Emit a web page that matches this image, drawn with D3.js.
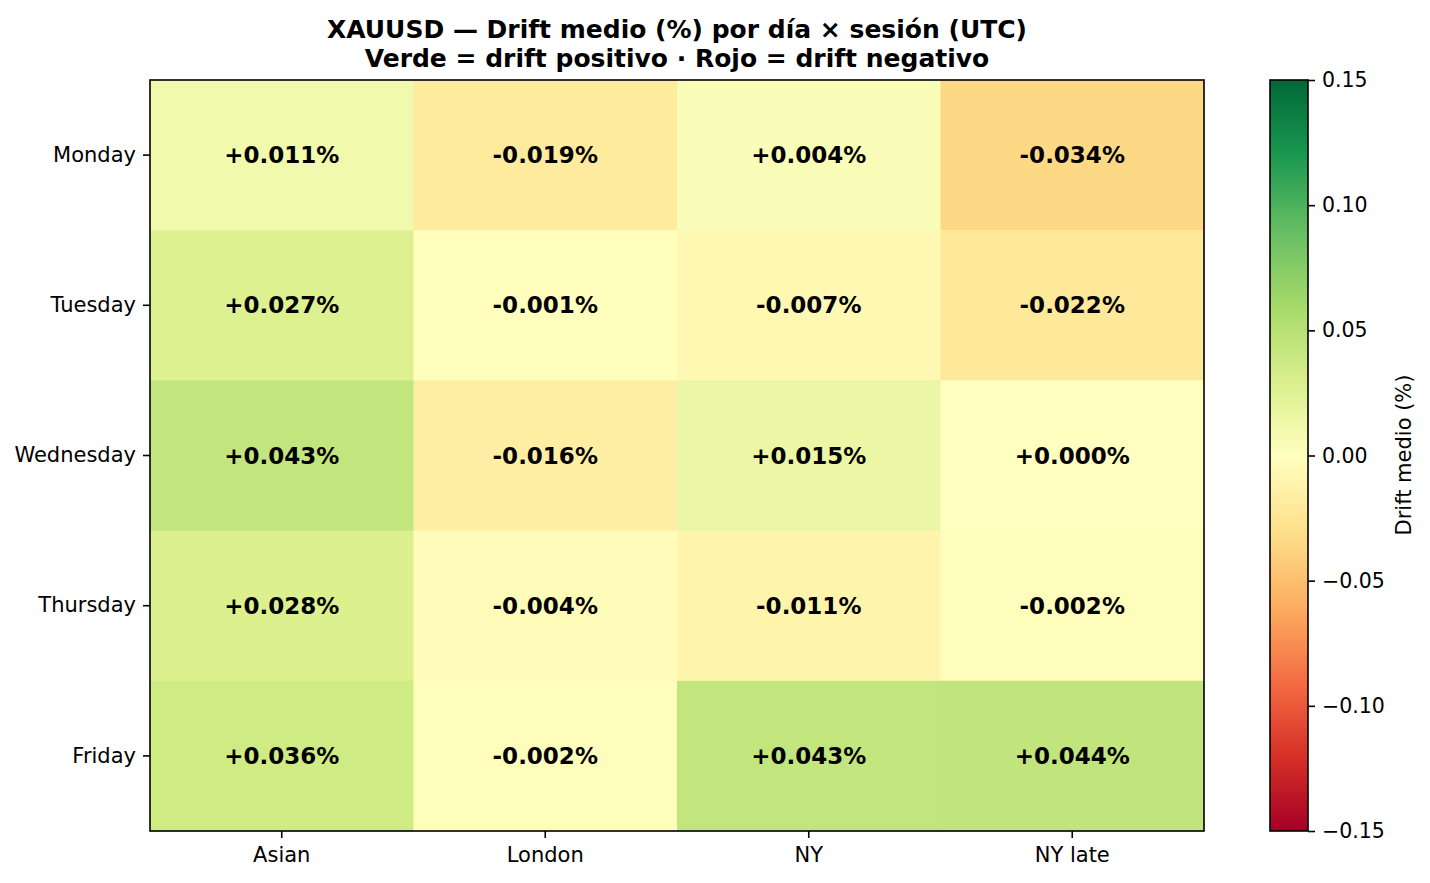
<!DOCTYPE html>
<html>
<head>
<meta charset="utf-8">
<script src="https://cdn.jsdelivr.net/npm/d3@7"></script>
<style>
  body { margin: 0; background: #fff; }
  svg text { font-family: "DejaVu Sans", sans-serif; }
</style>
</head>
<body>
<svg id="chart" width="1430" height="883"></svg>
<script>
// data
const days = ["Monday", "Tuesday", "Wednesday", "Thursday", "Friday"];
const sessions = ["Asian", "London", "NY", "NY late"];
const drift = [
  [0.011, -0.019, 0.004, -0.034],
  [0.027, -0.001, -0.007, -0.022],
  [0.043, -0.016, 0.015, 0.000],
  [0.028, -0.004, -0.011, -0.002],
  [0.036, -0.002, 0.043, 0.044]
];
const cbTicks = [0.15, 0.10, 0.05, 0.00, -0.05, -0.10, -0.15];

const svg = d3.select("#chart");
const plot = {left: 150, right: 1204, top: 80, bottom: 831};
const cb = {left: 1270, right: 1308};

// RdYlGn, linear between the 11 brewer colours like matplotlib
const brewer = d3.schemeRdYlGn[11];
const color = d3.scaleLinear()
  .domain(d3.range(11).map(i => -0.15 + i * 0.03))
  .range(brewer)
  .interpolate(d3.interpolateRgb)
  .clamp(true);

const x = d3.scaleBand().domain(sessions).range([plot.left, plot.right]);
const y = d3.scaleBand().domain(days).range([plot.top, plot.bottom]);

let cells = [];
days.forEach((d, i) => sessions.forEach((s, j) => cells.push({day: d, session: s, v: drift[i][j]})));

svg.append("g").selectAll("rect").data(cells).join("rect")
  .attr("x", d => x(d.session)).attr("y", d => y(d.day))
  .attr("width", x.bandwidth() + 0.5).attr("height", y.bandwidth() + 0.5)
  .attr("fill", d => color(d.v));

svg.append("g").selectAll("text").data(cells).join("text")
  .attr("x", d => x(d.session) + x.bandwidth() / 2)
  .attr("y", d => y(d.day) + y.bandwidth() / 2)
  .attr("text-anchor", "middle").attr("dominant-baseline", "central")
  .attr("font-size", 23).attr("font-weight", "bold")
  .text(d => (d.v >= 0 ? "+" : "-") + Math.abs(d.v).toFixed(3) + "%");

svg.append("rect")
  .attr("x", plot.left).attr("y", plot.top)
  .attr("width", plot.right - plot.left).attr("height", plot.bottom - plot.top)
  .attr("fill", "none").attr("stroke", "#000").attr("stroke-width", 1.6);

const yAxis = svg.append("g").attr("transform", `translate(${plot.left},0)`)
  .call(d3.axisLeft(y).tickSize(7).tickPadding(7));
const xAxis = svg.append("g").attr("transform", `translate(0,${plot.bottom})`)
  .call(d3.axisBottom(x).tickSize(7).tickPadding(9));
[yAxis, xAxis].forEach(a => {
  a.select(".domain").remove();
  a.selectAll("line").attr("stroke", "#000").attr("stroke-width", 1.6);
  a.selectAll("text").attr("font-size", 21).attr("fill", "#000")
    .style("font-family", "DejaVu Sans");
});

// colorbar
const cbY = d3.scaleLinear().domain([-0.15, 0.15]).range([plot.bottom, plot.top]);
const grad = svg.append("defs").append("linearGradient")
  .attr("id", "cbgrad").attr("x1", 0).attr("y1", 1).attr("x2", 0).attr("y2", 0);
grad.selectAll("stop").data(brewer).join("stop")
  .attr("offset", (d, i) => i / 10)
  .attr("stop-color", d => d);
svg.append("rect")
  .attr("x", cb.left).attr("y", plot.top)
  .attr("width", cb.right - cb.left).attr("height", plot.bottom - plot.top)
  .attr("fill", "url(#cbgrad)").attr("stroke", "#000").attr("stroke-width", 1.6);

const cbAxis = svg.append("g").attr("transform", `translate(${cb.right},0)`)
  .call(d3.axisRight(cbY).tickValues(cbTicks).tickSize(7).tickPadding(7)
    .tickFormat(d => d3.format(".2f")(d).replace("-", "\u2212")));
cbAxis.select(".domain").remove();
cbAxis.selectAll("line").attr("stroke", "#000").attr("stroke-width", 1.6);
cbAxis.selectAll("text").attr("font-size", 20.5).attr("fill", "#000")
  .style("font-family", "DejaVu Sans");

svg.append("text")
  .attr("transform", "translate(1411,455) rotate(-90)")
  .attr("text-anchor", "middle").attr("font-size", 21)
  .text("Drift medio (%)");

// title
const title = svg.append("text").attr("text-anchor", "middle")
  .attr("font-size", 25).attr("font-weight", "bold");
title.append("tspan").attr("x", (plot.left + plot.right) / 2).attr("y", 38)
  .text("XAUUSD \u2014 Drift medio (%) por d\u00eda \u00d7 sesi\u00f3n (UTC)");
title.append("tspan").attr("x", (plot.left + plot.right) / 2).attr("y", 67)
  .text("Verde = drift positivo \u00b7 Rojo = drift negativo");
</script>
</body>
</html>
